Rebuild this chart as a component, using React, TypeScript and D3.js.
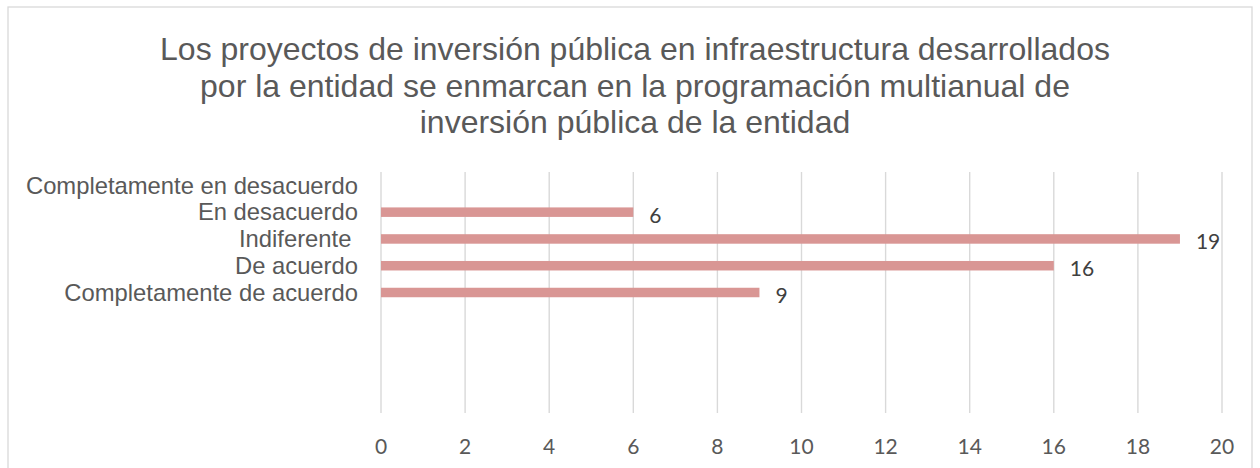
import React from "react";
import * as d3 from "d3";

const titleLines = [
  "Los proyectos de inversión pública en infraestructura desarrollados",
  "por la entidad se enmarcan en la programación multianual de",
  "inversión pública de la entidad",
];
const categories = [
  "Completamente en desacuerdo",
  "En desacuerdo",
  "Indiferente ",
  "De acuerdo",
  "Completamente de acuerdo",
  "",
  "",
  "",
  "",
];
const values: (number | null)[] = [null, 6, 19, 16, 9, null, null, null, null];
const xTicks = [0, 2, 4, 6, 8, 10, 12, 14, 16, 18, 20];

export default function App() {
  const W = 1260;
  const H = 468;
  const x = d3.scaleLinear().domain([0, 20]).range([381, 1222]);
  const y = d3
    .scaleBand<number>()
    .domain(d3.range(categories.length))
    .range([172, 413])
    .paddingInner(0.66)
    .paddingOuter(0.33);
  const bandCenter = (i: number) => (y(i) as number) + y.bandwidth() / 2;
  const barH = 9.5;
  const sans = "'Liberation Sans', Arial, sans-serif";
  const num = "Lato, 'Open Sans', sans-serif";

  return (
    <svg
      width={W}
      height={H}
      style={{ position: "absolute", left: 0, top: 0, background: "#fff" }}
    >
      <rect x={0} y={0} width={W} height={H} fill="#fff" />
      <rect
        x={8}
        y={7}
        width={1244}
        height={480}
        fill="#fff"
        stroke="#D9D9D9"
        strokeWidth={1.3}
      />
      {titleLines.map((t, i) => (
        <text
          key={i}
          x={635}
          y={60 + i * 36.5}
          textAnchor="middle"
          fontFamily={sans}
          fontSize={32}
          fill="#595959"
        >
          {t}
        </text>
      ))}
      {xTicks.map((t) => (
        <line
          key={"g" + t}
          x1={x(t)}
          x2={x(t)}
          y1={172}
          y2={413}
          stroke="#D9D9D9"
          strokeWidth={1.4}
        />
      ))}
      {xTicks.map((t) => (
        <text
          key={"t" + t}
          x={x(t)}
          y={447}
          dy="0.35em"
          textAnchor="middle"
          fontFamily={num}
          fontSize={21}
          fill="#595959"
        >
          {t}
        </text>
      ))}
      {categories.map((c, i) => (
        <text
          key={"c" + i}
          x={358}
          y={bandCenter(i)}
          dy="0.35em"
          textAnchor="end"
          fontFamily={sans}
          fontSize={23.8}
          fill="#595959"
          style={{ whiteSpace: "pre" }}
        >
          {c}
        </text>
      ))}
      {values.map((v, i) =>
        v == null ? null : (
          <g key={"b" + i}>
            <rect
              x={x(0)}
              y={bandCenter(i) - barH / 2}
              width={x(v) - x(0)}
              height={barH}
              fill="#D99694"
            />
            <text
              x={x(v) + 16}
              y={bandCenter(i) + 3}
              dy="0.35em"
              textAnchor="start"
              fontFamily={num}
              fontSize={21}
              fill="#404040"
            >
              {v}
            </text>
          </g>
        )
      )}
    </svg>
  );
}
